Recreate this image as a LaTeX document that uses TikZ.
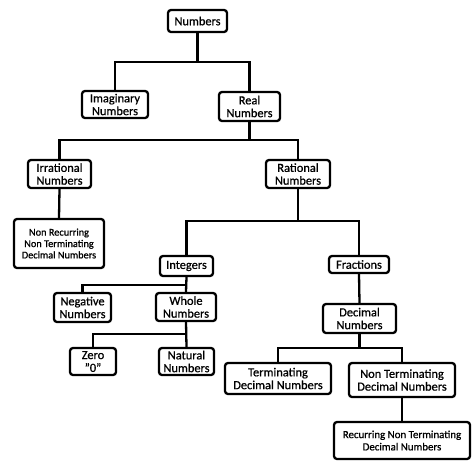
\documentclass[tikz,border=0pt]{standalone}
\usepackage{fontspec}
\setmainfont{Carlito}[FakeBold=0.8]
\begin{document}
\begin{tikzpicture}[x=1pt,y=-1pt,
  box/.style={draw=black, line width=2.3pt, rounded corners=3pt, align=center, inner sep=0pt,
    font=\fontsize{12.4}{12.8}\selectfont, fill=white},
  smallbox/.style={box, font=\fontsize{10.3}{11.4}\selectfont},
  link/.style={line width=2.3pt}]
\useasboundingbox (0,0) rectangle (474,467);
\node[box, minimum width=59pt, minimum height=22pt] (num) at (197.5,21) {Numbers};
\node[box, minimum width=66pt, minimum height=27pt] (imag) at (115,104.5) {Imaginary\\Numbers};
\node[box, minimum width=61pt, minimum height=29pt] (real) at (249.5,106.5) {Real\\Numbers};
\node[box, minimum width=63pt, minimum height=28pt] (irr) at (59.5,174) {Irrational\\Numbers};
\node[box, minimum width=64pt, minimum height=28pt] (rat) at (298,174) {Rational\\Numbers};
\node[smallbox, minimum width=90pt, minimum height=49pt] (nrr) at (59,243.5) {Non Recurring\\Non Terminating\\Decimal Numbers};
\node[box, minimum width=53pt, minimum height=20pt] (int) at (186.5,266) {Integers};
\node[box, minimum width=60pt, minimum height=17pt] (frac) at (359,264.5) {Fractions};
\node[box, minimum width=57pt, minimum height=29pt] (neg) at (82.5,307.5) {Negative\\Numbers};
\node[box, minimum width=60pt, minimum height=28pt] (whole) at (186,307) {Whole\\Numbers};
\node[box, minimum width=46pt, minimum height=27pt] (zero) at (93,361.5) {Zero\\"0"};
\node[box, minimum width=55pt, minimum height=27pt] (nat) at (186.5,361.5) {Natural\\Numbers};
\node[box, minimum width=73pt, minimum height=29pt] (dec) at (359.5,318.5) {Decimal\\Numbers};
\node[box, minimum width=106pt, minimum height=31pt] (term) at (278,378.5) {Terminating\\Decimal Numbers};
\node[box, minimum width=106pt, minimum height=34pt] (nterm) at (402,380) {Non Terminating\\Decimal Numbers};
\node[smallbox, font=\fontsize{10.9}{12.3}\selectfont, minimum width=136pt, minimum height=37pt] (rec) at (402,440.5) {Recurring Non Terminating\\Decimal Numbers};
\coordinate (b1) at (197.5,62);
\coordinate (b2) at (249.5,140);
\coordinate (b3) at (298,221);
\coordinate (b4) at (186.5,285);
\coordinate (b5) at (186,334);
\coordinate (b6) at (359.5,348);
\draw[link] (num.south) -- (b1);
\draw[link] (imag.north) |- (b1) -| (real.north);
\draw[link] (real.south) -- (b2);
\draw[link] (irr.north) |- (b2) -| (rat.north);
\draw[link] (irr.south) -- (nrr.north);
\draw[link] (rat.south) -- (b3);
\draw[link] (int.north) |- (b3) -| (frac.north);
\draw[link] (int.south) -- (whole.north);
\draw[link] (neg.north) |- (b4);
\draw[link] (whole.south) -- (nat.north);
\draw[link] (zero.north) |- (b5);
\draw[link] (frac.south) -- (dec.north);
\draw[link] (dec.south) -- (b6);
\draw[link] (term.north) |- (b6) -| (nterm.north);
\draw[link] (nterm.south) -- (rec.north);
\end{tikzpicture}
\end{document}
